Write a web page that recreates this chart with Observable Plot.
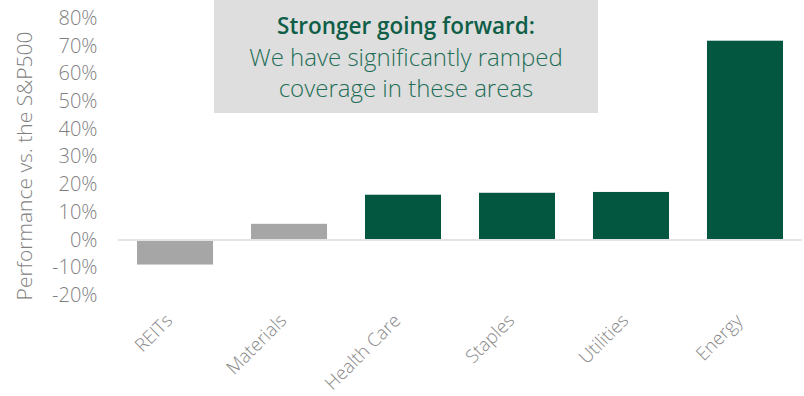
<!DOCTYPE html>
<html>
<head>
<meta charset="utf-8">
<script src="https://cdn.jsdelivr.net/npm/d3@7"></script>
<script src="https://cdn.jsdelivr.net/npm/@observablehq/plot@0.6"></script>
<style>
  html, body { margin: 0; padding: 0; background: #fff; }
  #wrap { position: relative; width: 804px; height: 396px; font-family: "Open Sans", sans-serif; }
  #note { position: absolute; left: 214px; top: 0; width: 384px; height: 113px; background: #dedede;
          text-align: center; color: #1f6e57; font-size: 24px; line-height: 31px; font-weight: 300; box-sizing: border-box; padding-top: 9px; }
  #note b { font-weight: 600; color: #0f5e48; font-size: 22.5px; }
  svg { position: absolute; left: 0; top: 0; }
</style>
</head>
<body>
<div id="wrap"></div>
<script>
const sectors = ["REITs", "Materials", "Health Care", "Staples", "Utilities", "Energy"];
const performance = [-9.0, 5.7, 16.2, 16.9, 17.2, 71.8];
const highlighted = [false, false, true, true, true, true];
const yTicks = [-20, -10, 0, 10, 20, 30, 40, 50, 60, 70, 80];
const axisTitle = "Performance vs. the S&P500";
const noteTitle = "Stronger going forward:";
const noteLines = ["We have significantly ramped", "coverage in these areas"];

const data = sectors.map((s, i) => ({sector: s, value: performance[i], hl: highlighted[i]}));

const plot = Plot.plot({
  width: 804,
  height: 396,
  marginLeft: 118,
  marginRight: 2,
  marginTop: 18,
  marginBottom: 101,
  style: {fontFamily: "Open Sans, sans-serif", background: "transparent"},
  x: {domain: sectors, paddingInner: 0.333, paddingOuter: 0.1667, round: false},
  y: {domain: [-20, 80]},
  marks: [
    Plot.barY(data, {x: "sector", y: "value", fill: d => d.hl ? "#03563f" : "#a6a6a6"}),
    Plot.ruleY([0], {stroke: "#e3e3e3", strokeWidth: 2}),
    Plot.axisY(yTicks, {tickSize: 0, tickPadding: 21, tickFormat: d => d + "%", fontSize: 20, fill: "#7f7f7f", fontWeight: 300,
      label: axisTitle, labelAnchor: "center", labelArrow: "none", labelOffset: 101}),
    Plot.axisX({tickSize: 0, tickRotate: -45, tickPadding: 22, dx: -6, fontSize: 18.5, fill: "#8a8a8a", fontWeight: 300, label: null})
  ]
});
const wrap = document.getElementById("wrap");
wrap.appendChild(plot);
const lab = plot.querySelector("g[aria-label='y-axis label']");
if (lab) {
  lab.setAttribute("transform", ((lab.getAttribute("transform") || "") + " translate(0,9)").trim());
  lab.querySelectorAll("text").forEach(t => {
    t.setAttribute("font-size", 21); t.setAttribute("fill", "#7f7f7f"); t.setAttribute("font-weight", 300);
  });
}
const note = document.createElement("div");
note.id = "note";
note.innerHTML = "<b>" + noteTitle + "</b><br>" + noteLines.join("<br>");
wrap.appendChild(note);
</script>
</body>
</html>
